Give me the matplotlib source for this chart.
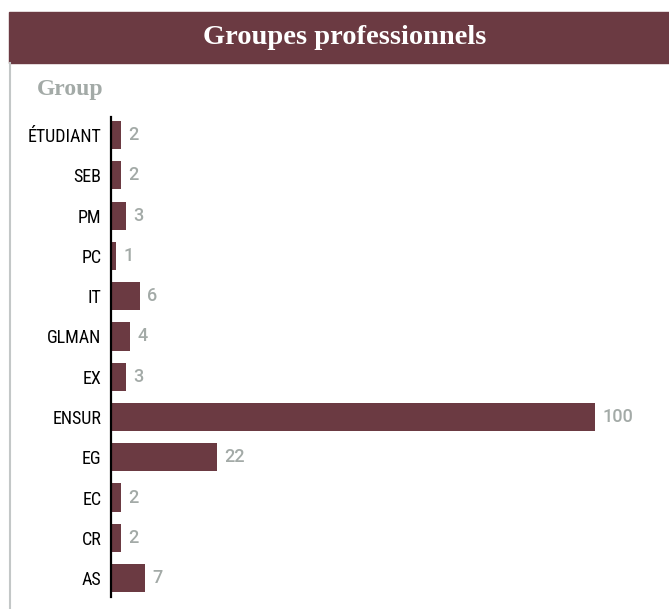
import matplotlib.pyplot as plt
from matplotlib.patches import Rectangle
from matplotlib.lines import Line2D

# donnees
categories = ["ÉTUDIANT", "SEB", "PM", "PC", "IT", "GLMAN", "EX", "ENSUR", "EG", "EC", "CR", "AS"]
values = [2, 2, 3, 1, 6, 4, 3, 100, 22, 2, 2, 7]

bar_color = "#6b3a42"
label_gray = "#a3aaa7"

W, H = 669, 609
fig = plt.figure(figsize=(W / 100, H / 100), dpi=100)

# bandeau titre
fig.patches.append(Rectangle((9 / W, 1 - 63 / H), 1 - 9 / W, 51 / H,
                             transform=fig.transFigure, color=bar_color, zorder=0))
fig.text(345 / W, 1 - 38 / H, "Groupes professionnels", color="white",
         family="Liberation Serif", weight="bold", fontsize=20.5,
         ha="center", va="center")
# bordure gauche
fig.lines.append(Line2D([10 / W, 10 / W], [0, 1 - 63 / H], transform=fig.transFigure,
                        color="#c3c7c7", lw=1.5))
fig.text(37 / W, 1 - 90 / H, "Group", color=label_gray, family="Liberation Serif",
         weight="bold", fontsize=17, ha="left", va="center")

x0, x1 = 111, 660
ax = fig.add_axes([x0 / W, 1 - 597 / H, (x1 - x0) / W, (597 - 117) / H])
ypos = list(range(len(categories)))
ax.barh(ypos, values, height=0.7, color=bar_color)
ax.set_xlim(0, (x1 - x0) / 4.84)
ax.set_ylim(11.47, -0.45)
for y, v in zip(ypos, values):
    ax.text(v + 1.5, y, str(v), color=label_gray, fontsize=13, va="center",
            ha="left", family="Roboto", weight="medium")
ax.set_yticks(ypos)
ax.set_yticklabels(categories, fontsize=13,
                   family=["Roboto Condensed", "Liberation Sans Narrow", "Roboto", "DejaVu Sans"],
                   stretch="condensed")
ax.tick_params(axis="y", length=0, pad=7)
ax.set_xticks([])
for s in ["top", "right", "bottom"]:
    ax.spines[s].set_visible(False)
ax.spines["left"].set_linewidth(1.6)

fig.savefig("out.png", dpi=100)
